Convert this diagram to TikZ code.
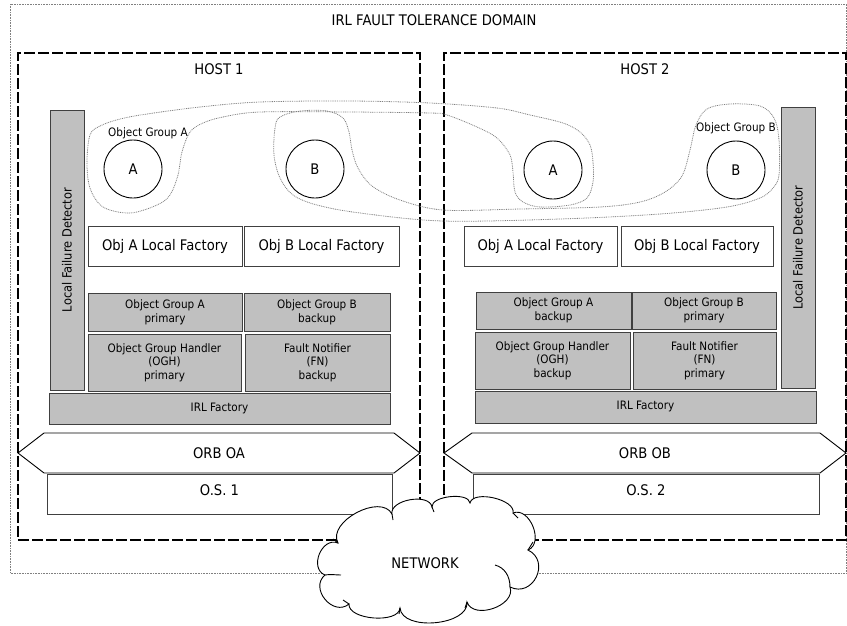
\documentclass[tikz,border=0pt]{standalone}
\usepackage{fontspec}
\setmainfont{DejaVu Sans}[FakeStretch=0.9]
\usetikzlibrary{shapes.geometric}

\newcommand\bigtxt{\fontsize{14.6}{17}\selectfont}
\newcommand\smalltxt{\fontsize{11.6}{13.6}\selectfont}
\newcommand\lfdtxt{\fontsize{12.7}{15}\selectfont}

\definecolor{boxgray}{HTML}{C0C0C0}
\definecolor{edgegray}{HTML}{404040}
\definecolor{dotgray}{HTML}{808080}

\begin{document}
\begin{tikzpicture}[x=1pt,y=-1pt,
  every node/.style={inner sep=0pt,outer sep=0pt},
  domainline/.style={draw=dotgray,line width=0.7pt,dash pattern=on 0.8pt off 0.8pt},
  hostbox/.style={draw=black,line width=1.7pt,dash pattern=on 11pt off 3pt},
  groupline/.style={draw=dotgray,line width=0.8pt,dash pattern=on 0.9pt off 0.9pt},
  wbox/.style={rectangle,draw=edgegray,line width=0.9pt,fill=white,font=\bigtxt,align=center},
  gbox/.style={rectangle,draw=edgegray,line width=0.9pt,fill=boxgray,font=\smalltxt,align=center},
  lfdbox/.style={gbox,minimum width=34pt},
  objcircle/.style={circle,draw=black,line width=0.9pt,minimum size=58pt,font=\bigtxt},
  orbshape/.style={draw=black,line width=0.9pt,fill=white},
  bigtext/.style={font=\bigtxt},
  smalltext/.style={font=\smalltxt},
  cloudline/.style={draw=black,line width=0.9pt}
]
\useasboundingbox (0,0) rectangle (847,625);

% fault tolerance domain
\draw[domainline] (10,4) rectangle (846.5,573);
\node[bigtext] (domain) at (434,20) {IRL FAULT TOLERANCE DOMAIN};

% hosts
\node[hostbox,minimum width=402pt,minimum height=487pt] (host1) at (219,296.5) {};
\node[hostbox,minimum width=402pt,minimum height=487pt] (host2) at (645,296.5) {};
\node[bigtext] (host1label) at (219,69) {HOST 1};
\node[bigtext] (host2label) at (645,69) {HOST 2};

% object groups spanning both hosts
\draw[groupline] plot[smooth cycle,tension=0.55] coordinates {
  (90,135) (100,126) (120,119) (147,114) (200,107) (260,102) (350,101)
  (430,103) (497,108) (530,115) (563,123) (580,132) (590,145) (593,162)
  (593,182) (587,198) (570,205) (540,207) (523,202) (515,192) (513,172)
  (510,155) (497,138) (477,127) (447,115) (430,113) (350,112) (260,112)
  (223,117) (203,123) (190,132) (182,152) (178,175) (170,195) (157,205)
  (130,213) (103,207) (90,188) (87,162)};
\draw[groupline] plot[smooth cycle,tension=0.55] coordinates {
  (280,117) (300,111) (327,111) (343,118) (349,132) (352,150) (358,168)
  (372,186) (400,200) (443,210) (520,209) (600,207) (640,202) (665,192)
  (682,176) (690,150) (696,125) (707,109) (730,104) (760,106) (774,118)
  (779,140) (779,175) (773,188) (760,198) (727,207) (660,214) (560,219)
  (443,221) (360,213) (317,205) (293,195) (280,178) (274,155) (275,128)};
\node[smalltext] (grpAlabel) at (148,133) {Object Group A};
\node[smalltext] (grpBlabel) at (736,128) {Object Group B};

% replicas
\node[objcircle] (a1) at (133,169) {A};
\node[objcircle] (b1) at (315,169) {B};
\node[objcircle] (a2) at (553,170) {A};
\node[objcircle] (b2) at (736,170) {B};

% host 1 stack
\node[lfdbox,minimum height=280pt] (lfd1) at (67,250) {};
\node[font=\lfdtxt,rotate=90] (lfd1label) at (67,250) {Local Failure Detector};
\node[wbox,minimum width=154pt,minimum height=40pt] (ofa1) at (165,246.5) {Obj A Local Factory};
\node[wbox,minimum width=155pt,minimum height=40pt] (ofb1) at (321.5,246.5) {Obj B Local Factory};
\node[gbox,minimum width=154pt,minimum height=38pt] (oga1) at (165,312) {Object Group A\\primary};
\node[gbox,minimum width=146pt,minimum height=38pt] (ogb1) at (317,312) {Object Group B\\backup};
\node[gbox,minimum width=153pt,minimum height=57pt] (ogh1) at (164.5,362.5) {Object Group Handler\\(OGH)\\primary};
\node[gbox,minimum width=145pt,minimum height=57pt] (fn1) at (317.5,362.5) {Fault Notifier\\(FN)\\backup};
\node[gbox,minimum width=341pt,minimum height=31pt,text height=10pt,text depth=4pt] (irl1) at (219.5,408.5) {IRL Factory};
\draw[orbshape] (18,453) -- (44,433) -- (394,433) -- (420,453) -- (394,473) -- (44,473) -- cycle;
\node[bigtext] (orb1) at (219,453) {ORB OA};
\node[wbox,minimum width=345pt,minimum height=40pt,text height=21pt,text depth=19pt] (os1) at (219.5,494) {O.S. 1};

% host 2 stack
\node[lfdbox,minimum height=281pt] (lfd2) at (798,247.5) {};
\node[font=\lfdtxt,rotate=90] (lfd2label) at (798,247.5) {Local Failure Detector};
\node[wbox,minimum width=153pt,minimum height=40pt] (ofa2) at (540.5,246.5) {Obj A Local Factory};
\node[wbox,minimum width=152pt,minimum height=40pt] (ofb2) at (697,246.5) {Obj B Local Factory};
\node[gbox,minimum width=155pt,minimum height=37pt] (oga2) at (553.5,310.5) {Object Group A\\backup};
\node[gbox,minimum width=144pt,minimum height=37pt] (ogb2) at (704,310.5) {Object Group B\\primary};
\node[gbox,minimum width=155pt,minimum height=57pt] (ogh2) at (552.5,360.5) {Object Group Handler\\(OGH)\\backup};
\node[gbox,minimum width=143pt,minimum height=57pt] (fn2) at (704.5,360.5) {Fault Notifier\\(FN)\\primary};
\node[gbox,minimum width=341pt,minimum height=32pt,text height=10pt,text depth=5pt] (irl2) at (645.5,407) {IRL Factory};
\draw[orbshape] (444,453) -- (472,433) -- (820,433) -- (846,453) -- (820,473) -- (472,473) -- cycle;
\node[bigtext] (orb2) at (645,453) {ORB OB};
\node[wbox,minimum width=346pt,minimum height=40pt,text height=21pt,text depth=19pt] (os2) at (646,494) {O.S. 2};

% network cloud
\coordinate (c1) at (338,543);
\coordinate (c2) at (392,514);
\coordinate (c3) at (432,507);
\coordinate (c4) at (470,503);
\coordinate (c5) at (513,513);
\coordinate (c6) at (528,550);
\coordinate (c7) at (510,587);
\coordinate (c8) at (467,602);
\coordinate (c9) at (400,608);
\coordinate (c10) at (349,604);
\coordinate (c11) at (325,575);
\path[cloudline,fill=white]
  (c1) to[bend left=90,looseness=1.0] (c2)
       to[bend left=90,looseness=0.92] (c3)
       to[bend left=90,looseness=0.75] (c4)
       to[bend left=90,looseness=0.8] (c5)
       to[bend left=90,looseness=1.15] (c6)
       to[bend left=90,looseness=1.6] (c7)
       to[bend left=90,looseness=1.1] (c8)
       to[bend left=90,looseness=0.9] (c9)
       to[bend left=90,looseness=0.8] (c10)
       to[bend left=90,looseness=1.4] (c11)
       to[bend left=90,looseness=1.3] (c1) -- cycle;
% inner strokes of the cloud
\draw[cloudline] (c11) to[out=10,in=180] (341,575);
\draw[cloudline] (495,565) to[out=-15,in=90] (c7);
\draw[cloudline] (c6) -- (533,542);
\draw[cloudline] (c5) -- (518,518);
\draw[cloudline] (c2) -- (393,520);
\draw[cloudline] (c3) -- (434,512);
\draw[cloudline] (c8) -- (465,608);
\draw[cloudline] (c9) -- (399,614);
\draw[cloudline] (c10) -- (343,600);
\draw[cloudline] (c1) -- (333,539);
\node[bigtext] (network) at (425,563) {NETWORK};
\end{tikzpicture}
\end{document}
